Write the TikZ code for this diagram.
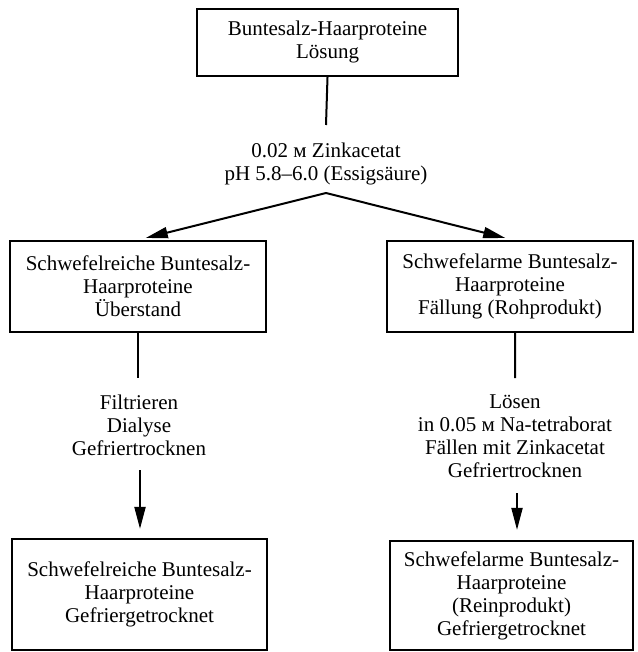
\documentclass[tikz,border=0pt]{standalone}
\usepackage{fontspec}
\setmainfont{Liberation Serif}
\usetikzlibrary{arrows.meta}
\begin{document}
\begin{tikzpicture}[x=1bp,y=-1bp,
  txt/.style={font=\fontsize{21bp}{23bp}\selectfont, align=center, inner sep=0pt},
  box/.style={txt, draw, line width=2.2bp},
  conn/.style={line width=2bp},
  arr/.style={line width=2bp, -{Triangle[length=22bp,width=11bp]}}]
\useasboundingbox (0,0) rectangle (638,652);

\node[box, minimum width=261bp, minimum height=67bp] (top) at (327.5,42.5)
  {\raisebox{-3bp}{\begin{tabular}{@{}c@{}}Buntesalz-Haarproteine\\Lösung\end{tabular}}};
\coordinate (tc) at (326,125);
\node[txt] (cond) at (326,164) {0.02 м Zinkacetat\\pH 5.8–6.0 (Essigsäure)};
\coordinate (apex) at (326,193);

\node[box, minimum width=256bp, minimum height=91bp] (lm) at (138,286.5)
  {Schwefelreiche Buntesalz-\\Haarproteine\\Überstand};
\node[box, minimum width=246bp, minimum height=91bp] (rm) at (510,286.5)
  {Schwefelarme Buntesalz-\\Haarproteine\\Fällung (Rohprodukt)};

\coordinate (lc) at (138,378);
\coordinate (rc) at (515,378);
\node[txt] (lt) at (139,425) {Filtrieren\\Dialyse\\Gefriertrocknen};
\node[txt] (rt) at (515,436) {Lösen\\in 0.05 м Na-tetraborat\\Fällen mit Zinkacetat\\Gefriertrocknen};
\coordinate (la) at (140,470);
\coordinate (ra) at (517,493);

\node[box, minimum width=255bp, minimum height=111bp] (lb) at (139.5,594.5)
  {Schwefelreiche Buntesalz-\\Haarproteine\\Gefriergetrocknet};
\node[box, minimum width=243bp, minimum height=109bp] (rb) at (511.5,595.5)
  {Schwefelarme Buntesalz-\\Haarproteine\\(Reinprodukt)\\Gefriergetrocknet};

\draw[conn] (top.south) -- (tc);
\draw[arr, shorten >=8bp] (apex) -- (lm.north);
\draw[arr, shorten >=8bp] (apex) -- ([xshift=3bp]rm.north);
\draw[conn] (lm.south) -- (lc);
\draw[conn] ([xshift=5bp]rm.south) -- (rc);
\draw[arr, shorten >=9bp] (la) -- (la |- lb.north);
\draw[arr, shorten >=10bp] (ra) -- (ra |- rb.north);
\end{tikzpicture}
\end{document}
